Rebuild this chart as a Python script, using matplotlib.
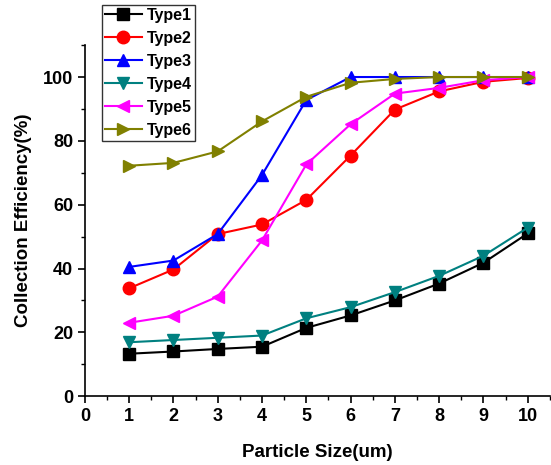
import matplotlib
matplotlib.use("Agg")
import matplotlib.pyplot as plt
from matplotlib.ticker import MultipleLocator

plt.rcParams['font.family'] = ['Liberation Sans', 'DejaVu Sans']
plt.rcParams['font.weight'] = 'bold'

sizes = [1, 2, 3, 4, 5, 6, 7, 8, 9, 10]
type1 = [13.3, 14.0, 14.8, 15.5, 21.4, 25.3, 30.0, 35.3, 41.8, 51.0]
type2 = [33.8, 39.7, 50.8, 53.8, 61.5, 75.4, 89.8, 95.5, 98.5, 99.7]
type3 = [40.5, 42.5, 50.8, 69.3, 92.8, 100.0, 100.0, 100.0, 100.0, 100.0]
type4 = [16.9, 17.6, 18.3, 19.0, 24.4, 27.9, 32.6, 37.7, 44.0, 52.8]
type5 = [23.0, 25.2, 31.2, 48.8, 72.6, 85.2, 94.8, 96.6, 99.0, 100.0]
type6 = [72.2, 73.1, 76.7, 86.1, 93.8, 98.2, 99.4, 100.0, 100.0, 100.0]

labels = ['Type1', 'Type2', 'Type3', 'Type4', 'Type5', 'Type6']
colors = ['black', 'red', 'blue', '#008080', '#FF00FF', '#808000']
markers = ['s', 'o', '^', 'v', '<', '>']
series = [type1, type2, type3, type4, type5, type6]

fig = plt.figure(figsize=(5.51, 4.65), dpi=100)
ax = fig.add_axes([0.154, 0.148, 0.844, 0.755])

for vals, lab, c, m in zip(series, labels, colors, markers):
    ax.plot(sizes, vals, color=c, marker=m, markersize=9, linewidth=1.5,
            label=lab)

ax.set_xlim(0, 10.5)
ax.set_ylim(0, 110)
ax.xaxis.set_major_locator(MultipleLocator(1))
ax.xaxis.set_minor_locator(MultipleLocator(0.5))
ax.yaxis.set_minor_locator(MultipleLocator(10))
ax.set_yticks([0, 20, 40, 60, 80, 100])

for side in ['top', 'right']:
    ax.spines[side].set_visible(False)
for side in ['left', 'bottom']:
    ax.spines[side].set_linewidth(1.2)

ax.tick_params(which='major', direction='out', length=5, width=1.2,
               labelsize=13)
ax.tick_params(which='minor', direction='out', length=3, width=1)

ax.set_xlabel('Particle Size(um)', fontsize=13.5, fontweight='bold',
              labelpad=14)
ax.set_ylabel('Collection Efficiency(%)', fontsize=13.5, fontweight='bold',
              labelpad=8)

leg = fig.legend(loc='upper left', bbox_to_anchor=(0.185, 0.99),
                 fontsize=11.5, frameon=True, fancybox=False,
                 handlelength=2.3, handletextpad=0.3, labelspacing=0.5,
                 borderpad=0.2, borderaxespad=0)
leg.get_frame().set_edgecolor('black')
leg.get_frame().set_linewidth(1)
for t in leg.get_texts():
    t.set_fontweight('bold')

fig.savefig('out.png', dpi=100)
